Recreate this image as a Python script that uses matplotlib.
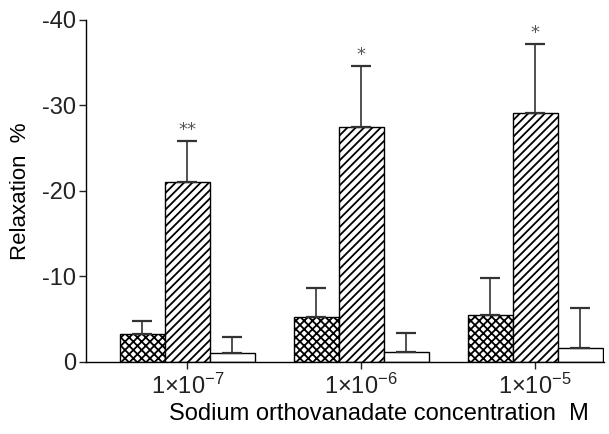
import numpy as np
import matplotlib.pyplot as plt

plt.rcParams['font.family'] = ['Liberation Sans', 'DejaVu Sans']
plt.rcParams['axes.unicode_minus'] = False
plt.rcParams['mathtext.fontset'] = 'custom'
plt.rcParams['mathtext.rm'] = 'Liberation Sans'
plt.rcParams['hatch.linewidth'] = 1.3

concentrations = ['1×10-7', '1×10-6', '1×10-5']
tick_labels = [r'$\mathregular{1{\times}10^{-7}}$', r'$\mathregular{1{\times}10^{-6}}$',
               r'$\mathregular{1{\times}10^{-5}}$']

# relaxation (%) and upper error for the three groups
group_a = [-3.3, -5.3, -5.5]
group_a_err = [1.5, 3.4, 4.3]
group_b = [-21.0, -27.5, -29.1]
group_b_err = [4.8, 7.1, 8.1]
group_c = [-1.0, -1.2, -1.6]
group_c_err = [1.9, 2.2, 4.7]
stars = ['**', '*', '*']

fig = plt.figure(figsize=(6.09, 4.34), dpi=100)
ax = fig.add_axes([0.141, 0.166, 0.851, 0.788])

x = np.arange(len(concentrations))
w = 0.2586
ekw = dict(ecolor='#333333', elinewidth=1.2, capsize=7, capthick=1.6)

ax.bar(x - w, group_a, w, color='white', edgecolor='black', hatch='xxxx', linewidth=1.0)
ax.bar(x, group_b, w, color='white', edgecolor='black', hatch='////', linewidth=1.0)
ax.bar(x + w, group_c, w, color='white', edgecolor='black', linewidth=1.0)

# error bars point upward (more negative)
ax.errorbar(x - w, group_a, yerr=[group_a_err, np.zeros(3)], fmt='none', **ekw)
ax.errorbar(x, group_b, yerr=[group_b_err, np.zeros(3)], fmt='none', **ekw)
ax.errorbar(x + w, group_c, yerr=[group_c_err, np.zeros(3)], fmt='none', **ekw)

for i in range(3):
    ax.text(x[i], group_b[i] - group_b_err[i] - 1.3, stars[i], ha='center', va='center',
            fontsize=13, color='#555555', family='DejaVu Sans')

ax.set_ylim(0, -40)
ax.set_xlim(-0.583, 2.397)
ax.set_yticks([0, -10, -20, -30, -40])
ax.set_yticklabels(['0', '-10', '-20', '-30', '-40'])
ax.set_xticks(x)
ax.set_xticklabels(tick_labels)

for s in ['top', 'right']:
    ax.spines[s].set_visible(False)
ax.spines['left'].set_linewidth(1.0)
ax.spines['bottom'].set_linewidth(1.0)
ax.tick_params(axis='both', labelsize=17, length=5, width=1.0, colors='#222222')
ax.tick_params(axis='y', pad=2)

ax.set_xlabel('Sodium orthovanadate concentration  M', fontsize=17)
ax.xaxis.set_label_coords(0.566, -0.12)
ax.set_ylabel('Relaxation  %', fontsize=16, labelpad=8)

fig.savefig('out.png', dpi=100)
